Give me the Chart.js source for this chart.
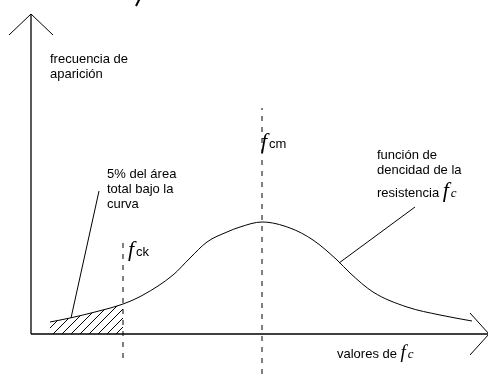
<!DOCTYPE html>
<html>
<head>
<meta charset="utf-8">
<script src="https://cdn.jsdelivr.net/npm/chart.js@4"></script>
<style>
html, body { margin: 0; padding: 0; background: #fff; }
canvas { display: block; }
</style>
</head>
<body>
<canvas id="densityChart" width="488" height="374"></canvas>
<script>
// density curve of the strength f_c (x = value of f_c, y = frequency)
const curveX = [19, 39, 64, 92, 112, 142, 159, 176, 196, 209, 231, 259, 282, 306, 319, 342, 376, 409, 441];
const curveY = [12, 16, 22, 30, 39, 59, 76, 92, 102, 107, 112, 106, 94, 74, 61, 42, 27, 19, 13];

// characteristic value f_ck and mean value f_cm
const fck = 92;
const fcm = 231;

// axis extent
const xAxisEnd = 458;
const yAxisEnd = 320;

// leader lines from the notes to the curve
const leftLeaderX = [68, 40];
const leftLeaderY = [143, 16];
const rightLeaderX = [384, 308];
const rightLeaderY = [127, 71];

const toPoints = (xs, ys) => xs.map((v, i) => ({ x: v, y: ys[i] }));

// hatch pattern for the 5% area
const makeHatch = () => {
    const c = document.createElement('canvas');
    c.width = 9;
    c.height = 9;
    const g = c.getContext('2d');
    g.strokeStyle = '#000';
    g.lineWidth = 1;
    g.beginPath();
    g.moveTo(0, 9); g.lineTo(9, 0);
    g.moveTo(-1, 1); g.lineTo(1, -1);
    g.moveTo(8, 10); g.lineTo(10, 8);
    g.stroke();
    return g.createPattern(c, 'repeat');
};

const hatchCount = curveX.filter(v => v <= fck).length;

const lineSet = (data, extra) => Object.assign({
    data: data,
    showLine: true,
    borderColor: '#000',
    borderWidth: 1,
    pointRadius: 0,
    fill: false,
    clip: false
}, extra || {});

const sans = '13px "Liberation Sans", Arial, sans-serif';
const fonts = {
    sans: sans,
    sym: 'italic 22px "Liberation Serif", "Times New Roman", serif',
    symSmall: 'italic 19px "Liberation Serif", "Times New Roman", serif',
    sub: 'italic 13px "Liberation Serif", "Times New Roman", serif'
};

const noteBlocks = [
    { x: 19, y: 271, lines: ['frecuencia de', 'aparición'] },
    { x: 76, y: 156, lines: ['5% del área', 'total bajo la', 'curva'] },
    { x: 346, y: 175, lines: ['función de', 'dencidad de la'] }
];

const mathLabels = [
    { x: 97, y: 78, runs: [['f', 'sym'], ['ck', 'sans']] },
    { x: 230, y: 186, runs: [['f', 'sym'], ['cm', 'sans']] },
    { x: 346, y: 137, runs: [['resistencia ', 'sans'], ['f', 'sym'], ['c', 'sub']] },
    { x: 306, y: -24, runs: [['valores de ', 'sans'], ['f', 'symSmall'], ['c', 'sub']] }
];

const textPlugin = {
    id: 'textPlugin',
    afterDatasetsDraw(chart) {
        const { ctx, scales: { x, y } } = chart;
        ctx.save();
        ctx.fillStyle = '#000';
        ctx.textBaseline = 'alphabetic';
        noteBlocks.forEach(b => {
            ctx.font = sans;
            b.lines.forEach((t, i) => {
                ctx.fillText(t, x.getPixelForValue(b.x), y.getPixelForValue(b.y) + i * 15);
            });
        });
        mathLabels.forEach(m => {
            let px = x.getPixelForValue(m.x);
            const py = y.getPixelForValue(m.y);
            m.runs.forEach(([t, f]) => {
                ctx.font = fonts[f];
                ctx.fillText(t, px, py);
                px += ctx.measureText(t).width + (f === 'sans' ? 0 : 2);
            });
        });
        ctx.restore();
    }
};

const ctx = document.getElementById('densityChart').getContext('2d');

new Chart(ctx, {
    type: 'scatter',
    data: {
        datasets: [
            // hatched 5% area
            lineSet(toPoints(curveX.slice(0, hatchCount), curveY.slice(0, hatchCount)), {
                borderWidth: 0,
                fill: 'origin',
                backgroundColor: makeHatch(),
                cubicInterpolationMode: 'monotone'
            }),
            // density curve
            lineSet(toPoints(curveX, curveY), { cubicInterpolationMode: 'monotone' }),
            // f_ck and f_cm dashed lines
            lineSet([{ x: fck, y: -24 }, { x: fck, y: 91 }], { borderDash: [5, 6] }),
            lineSet([{ x: fcm, y: -40 }, { x: fcm, y: 226 }], { borderDash: [5, 6] }),
            // axes with arrows
            lineSet([{ x: 0, y: 0 }, { x: xAxisEnd, y: 0 }], { borderWidth: 1.3 }),
            lineSet([{ x: xAxisEnd - 19, y: 21 }, { x: xAxisEnd, y: 0 }, { x: xAxisEnd - 19, y: -21 }]),
            lineSet([{ x: 0, y: 0 }, { x: 0, y: yAxisEnd }], { borderWidth: 1.3 }),
            lineSet([{ x: -22, y: yAxisEnd - 21 }, { x: 0, y: yAxisEnd }, { x: 22, y: yAxisEnd - 21 }]),
            // leader lines
            lineSet(toPoints(leftLeaderX, leftLeaderY)),
            lineSet(toPoints(rightLeaderX, rightLeaderY)),
            // stray stroke at the top edge
            lineSet([{ x: 105, y: 328 }, { x: 109, y: 336 }], { borderWidth: 2 })
        ]
    },
    options: {
        responsive: false,
        animation: false,
        layout: { padding: 0 },
        plugins: {
            legend: { display: false },
            tooltip: { enabled: false }
        },
        scales: {
            x: { type: 'linear', min: -31, max: 457, display: false },
            y: { type: 'linear', min: -40, max: 334, display: false }
        }
    },
    plugins: [textPlugin]
});
</script>
</body>
</html>
